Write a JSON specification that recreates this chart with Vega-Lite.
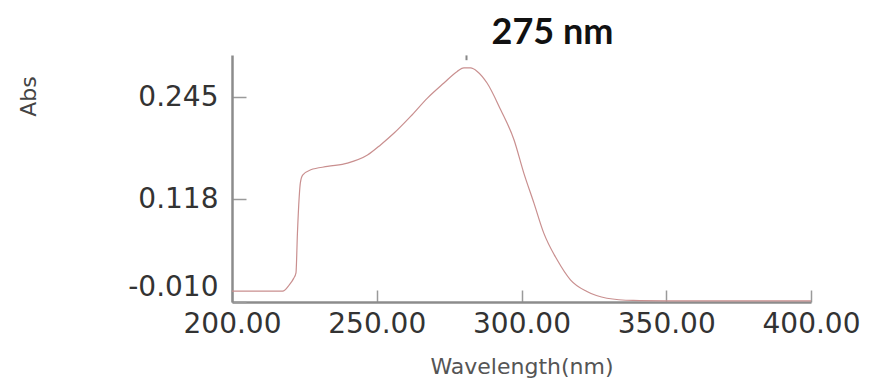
{
  "$schema": "https://vega.github.io/schema/vega-lite/v6.json",
  "autosize": "none",
  "width": 579,
  "height": 247,
  "padding": {"left": 232, "top": 55, "right": 70, "bottom": 79},
  "background": "white",
  "title": {
    "text": "275 nm",
    "font": "Lato",
    "fontSize": 36,
    "fontWeight": "bold",
    "color": "#111111",
    "anchor": "middle",
    "dx": 31,
    "dy": 38,
    "baseline": "alphabetic",
    "offset": 12
  },
  "config": {
    "view": {"stroke": null},
    "axis": {
      "grid": false,
      "domainColor": "#8c8c8c",
      "domainWidth": 2.5,
      "tickColor": "#9a9a9a",
      "tickWidth": 1.5,
      "labelFont": "DejaVu Sans",
      "labelFontSize": 28,
      "labelColor": "#333333",
      "titleFont": "DejaVu Sans",
      "titleFontWeight": "normal",
      "titleColor": "#555555"
    }
  },
  "datasets": {
    "spectrum": [
      {"wavelength": 200.0, "abs": 0.003},
      {"wavelength": 210.0, "abs": 0.003},
      {"wavelength": 217.5, "abs": 0.003},
      {"wavelength": 219.8, "abs": 0.011},
      {"wavelength": 221.3, "abs": 0.019},
      {"wavelength": 222.1, "abs": 0.026},
      {"wavelength": 222.6, "abs": 0.075},
      {"wavelength": 223.2, "abs": 0.120},
      {"wavelength": 223.6, "abs": 0.138},
      {"wavelength": 224.4, "abs": 0.148},
      {"wavelength": 227.2, "abs": 0.1546},
      {"wavelength": 233.0, "abs": 0.1588},
      {"wavelength": 239.9, "abs": 0.163},
      {"wavelength": 246.8, "abs": 0.173},
      {"wavelength": 251.4, "abs": 0.186},
      {"wavelength": 256.0, "abs": 0.2005},
      {"wavelength": 261.7, "abs": 0.2213},
      {"wavelength": 267.5, "abs": 0.2442},
      {"wavelength": 273.2, "abs": 0.263},
      {"wavelength": 277.8, "abs": 0.2775},
      {"wavelength": 280.1, "abs": 0.2818},
      {"wavelength": 282.4, "abs": 0.2818},
      {"wavelength": 284.7, "abs": 0.2775},
      {"wavelength": 288.1, "abs": 0.263},
      {"wavelength": 292.8, "abs": 0.2296},
      {"wavelength": 297.4, "abs": 0.1921},
      {"wavelength": 300.8, "abs": 0.1505},
      {"wavelength": 304.3, "abs": 0.113},
      {"wavelength": 307.7, "abs": 0.0755},
      {"wavelength": 312.3, "abs": 0.0422},
      {"wavelength": 316.9, "abs": 0.0172},
      {"wavelength": 322.6, "abs": 0.0025},
      {"wavelength": 329.5, "abs": -0.0058},
      {"wavelength": 338.6, "abs": -0.0085},
      {"wavelength": 350.0, "abs": -0.009},
      {"wavelength": 370.0, "abs": -0.0092},
      {"wavelength": 400.0, "abs": -0.009}
    ],
    "peak": [
      {"wavelength": 281.0, "top": 0.2975, "bottom": 0.2915}
    ]
  },
  "layer": [
    {
      "data": {"name": "spectrum"},
      "mark": {"type": "line", "color": "#c98f8f", "strokeWidth": 1.2, "interpolate": "monotone"},
      "encoding": {
        "x": {
          "field": "wavelength",
          "type": "quantitative",
          "scale": {"domain": [200, 400], "nice": false, "zero": false},
          "axis": {
            "title": "Wavelength(nm)",
            "values": [200, 250, 300, 350, 400],
            "format": ".2f",
            "tickSize": -12,
            "labelPadding": 20,
            "labelFlush": false,
            "titleFontSize": 22,
            "titleBaseline": "middle",
            "titleY": 64
          }
        },
        "y": {
          "field": "abs",
          "type": "quantitative",
          "scale": {"domain": [-0.0105, 0.298], "nice": false, "zero": false},
          "axis": {
            "title": "Abs",
            "values": [-0.01, 0.118, 0.245],
            "labelExpr": "replace(format(datum.value, '.3f'), '\u2212', '-')",
            "tickSize": -14,
            "labelPadding": 28,
            "labelFlush": true,
            "titleFontSize": 22,
            "titleColor": "#444444",
            "titleAngle": -90,
            "titleAlign": "center",
            "titleBaseline": "middle",
            "titleX": -204,
            "titleY": 41
          }
        }
      }
    },
    {
      "data": {"name": "peak"},
      "mark": {"type": "rule", "color": "#888888", "strokeWidth": 2},
      "encoding": {
        "x": {"field": "wavelength", "type": "quantitative"},
        "y": {"field": "top", "type": "quantitative"},
        "y2": {"field": "bottom"}
      }
    }
  ]
}
